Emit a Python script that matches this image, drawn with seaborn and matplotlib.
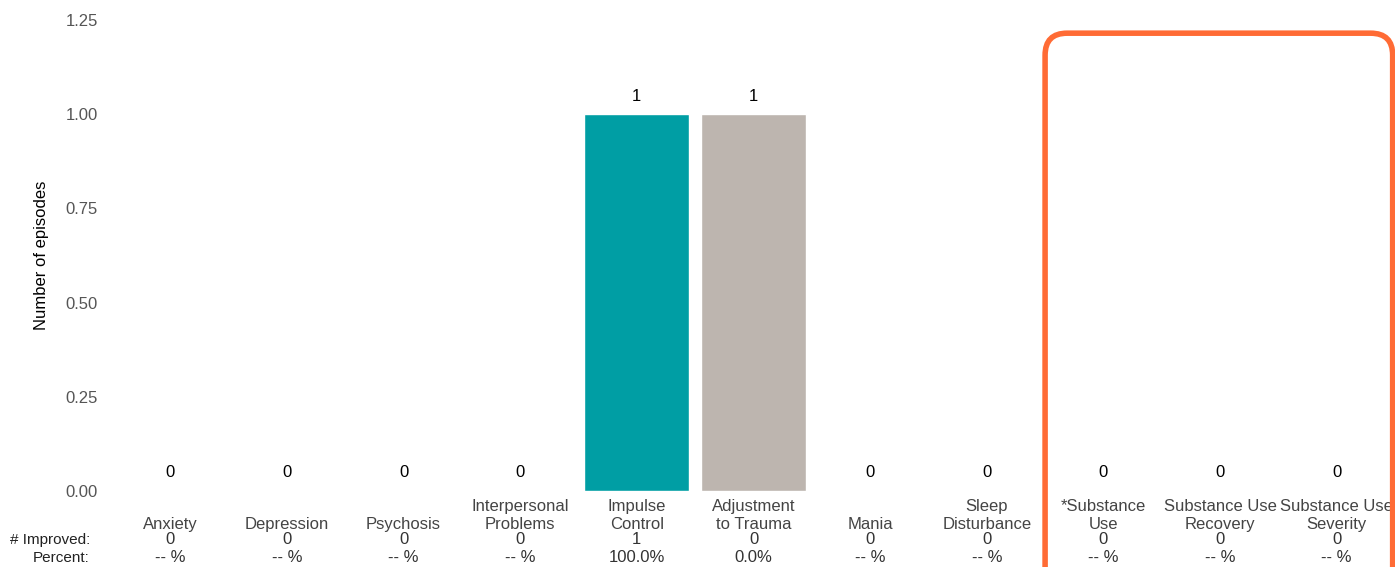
import matplotlib
matplotlib.use("Agg")
import matplotlib.pyplot as plt
import seaborn as sns
import pandas as pd
from matplotlib.patches import FancyBboxPatch

# data
categories = ["Anxiety", "Depression", "Psychosis", "Interpersonal\nProblems",
              "Impulse\nControl", "Adjustment\nto Trauma", "Mania", "Sleep\nDisturbance",
              "*Substance\nUse", "Substance Use\nRecovery", "Substance Use\nSeverity"]
episodes = [0, 0, 0, 0, 1, 1, 0, 0, 0, 0, 0]
improved = [0, 0, 0, 0, 1, 0, 0, 0, 0, 0, 0]
percent = ["-- %", "-- %", "-- %", "-- %", "100.0%", "0.0%", "-- %", "-- %", "-- %", "-- %", "-- %"]
bar_colors = ["#009EA4", "#009EA4", "#009EA4", "#009EA4", "#009EA4", "#BDB5AF",
              "#009EA4", "#009EA4", "#009EA4", "#009EA4", "#009EA4"]
yticks = [0.0, 0.25, 0.5, 0.75, 1.0, 1.25]
highlight_first = 8  # index of first substance-use category (boxed)

sns.set_style("white")
plt.rcParams["font.family"] = ["Liberation Sans", "DejaVu Sans"]
FS = 12

df = pd.DataFrame({"category": categories, "episodes": episodes})

fig = plt.figure(figsize=(13.95, 5.67), dpi=100)
ax = fig.add_axes([112 / 1395, 76 / 567, 1 - 112 / 1395, 471 / 567])

sns.barplot(data=df, x="category", y="episodes", hue="category",
            palette=bar_colors, width=0.9, legend=False, ax=ax, saturation=1)

ax.set_ylim(0, 1.25)
ax.set_xlim(-0.5, len(categories) - 0.5)
ax.set_yticks(yticks)
ax.set_yticklabels([f"{t:.2f}" for t in yticks])
ax.tick_params(axis="y", length=0, pad=10, labelsize=FS, labelcolor="#555555")
ax.set_xticks([])
ax.set_xlabel("")
ax.set_ylabel("Number of episodes", fontsize=FS, color="black", labelpad=12)
sns.despine(ax=ax, left=True, bottom=True)

# value labels above bars
for i, v in enumerate(episodes):
    ax.annotate(f"{v}", xy=(i, v), xytext=(0, 13), textcoords="offset points",
                ha="center", va="center", fontsize=FS, color="black")

# category names and summary rows below the axis
for i, (cat, imp, pct) in enumerate(zip(categories, improved, percent)):
    ax.annotate(cat, xy=(i, 0), xycoords=("data", "axes fraction"), xytext=(0, -29.5),
                textcoords="offset points", ha="center", va="bottom",
                multialignment="center", fontsize=FS, color="#444444", linespacing=1.25)
    ax.annotate(f"{imp}", xy=(i, 0), xycoords=("data", "axes fraction"), xytext=(0, -35),
                textcoords="offset points", ha="center", va="center", fontsize=FS,
                color="#333333")
    ax.annotate(pct, xy=(i, 0), xycoords=("data", "axes fraction"), xytext=(0, -48),
                textcoords="offset points", ha="center", va="center", fontsize=FS,
                color="#333333")

for lbl, dy in [("# Improved:", -35), ("Percent:", -48)]:
    ax.annotate(lbl, xy=(0, 0), xycoords="axes fraction", xytext=(-16, dy),
                textcoords="offset points", ha="right", va="center", fontsize=11,
                color="#222222")

# rounded orange box around the substance-use categories
fig.canvas.draw()
x0, y_top = ax.transData.transform((highlight_first - 0.5, 1.215))
x1, _ = ax.transData.transform((len(categories) - 0.52, 0))
box = FancyBboxPatch((x0, -40), x1 - x0, y_top + 40,
                     boxstyle="round,pad=0,rounding_size=22", transform=None,
                     fill=False, edgecolor="#FF6B35", linewidth=4, clip_on=False)
fig.patches.append(box)

fig.savefig("out.png", dpi=100)
